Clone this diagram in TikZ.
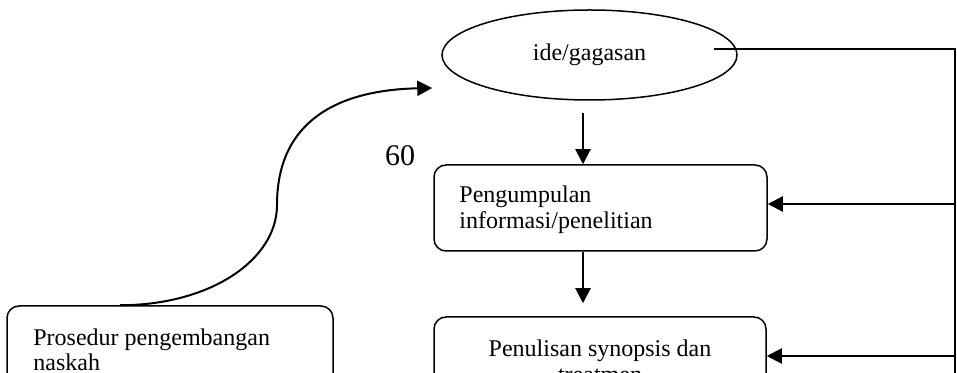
\documentclass[tikz,border=0pt]{standalone}
\usepackage{fontspec}
\setmainfont{Liberation Serif}
\usetikzlibrary{shapes.geometric,arrows.meta,calc}
\begin{document}
\begin{tikzpicture}[x=0.5pt,y=-0.5pt,
  box/.style={draw,line width=0.75pt,rounded corners=6pt,inner sep=0pt},
  conn/.style={line width=1pt},
  arr/.style={conn,-{Triangle[length=7.5pt,width=7.5pt]}},
  body/.style={font=\fontsize{12}{13}\selectfont,inner sep=0pt}]
\useasboundingbox (0,0) rectangle (957,373);
\clip (0,0) rectangle (957,373);

% main flow
\node[draw,ellipse,line width=0.75pt,minimum width=147.5pt,minimum height=45pt,
      inner sep=0pt,font=\fontsize{12}{13}\selectfont] (idea) at (589.5,55) {ide/gagasan};
\node[box,minimum width=166.5pt,minimum height=43pt] (info) at (600.5,208) {};
\node[box,minimum width=166pt,minimum height=43pt] (syn) at (600,360) {};
\node[box,minimum width=163pt,minimum height=50pt] (proc) at (170,356) {};

% box texts
\node[body,align=left,anchor=north west] (infotext) at (459,185.6)
  {Pengumpulan\\informasi/penelitian};
\node[body,align=center,anchor=north] (syntext) at (600,339.6)
  {Penulisan synopsis dan\\treatmen};
\node[body,align=left,anchor=north west,font=\fontsize{12}{12.5}\selectfont] (proctext) at (33,328.6)
  {Prosedur pengembangan\\naskah};

% page number
\node[inner sep=0pt,font=\fontsize{15}{18}\selectfont] (pg) at (400,156) {60};

% downward arrows
\draw[arr] ($(idea.south)+(-6.5,12)$) -- ($(info.north)+(-17.5,0)$);
\draw[arr] ($(info.south)+(-17.5,0)$) -- ($(syn.north)+(-17,-13)$);

% feedback line on the right
\coordinate (fb) at (955,49);
\draw[conn] ($(idea.center)+(124.5,-6)$) -- (fb) -- ++(0,400);
\draw[arr] (fb |- {$(info.east)+(0,-4)$}) -- ($(info.east)+(0,-4)$);
\draw[arr] (fb |- {$(syn.east)+(0,-4)$}) -- ($(syn.east)+(0,-4)$);

% curved connector to the idea
\coordinate (bend) at (277,205);
\coordinate (tip) at ($(idea.west)+(-9,33)$);
\draw[arr] ($(proc.north)+(-50,0)$) .. controls +(90,0) and +(0,55) .. (bend)
  .. controls +(0,-85) and +(-93,2) .. (tip);
\end{tikzpicture}
\end{document}
